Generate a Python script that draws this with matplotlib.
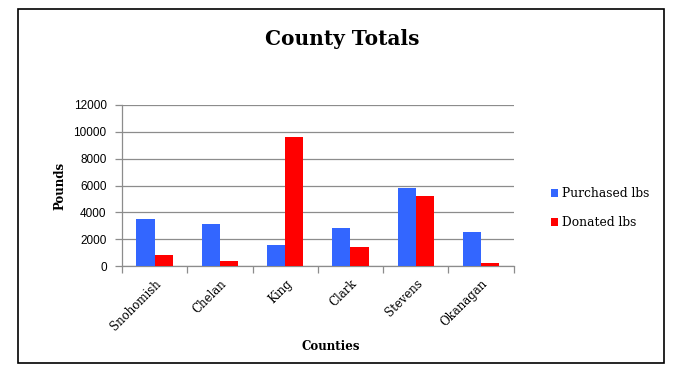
import numpy as np
import matplotlib
matplotlib.use("Agg")
import matplotlib.pyplot as plt
from matplotlib.patches import Rectangle

counties = ["Snohomish", "Chelan", "King", "Clark", "Stevens", "Okanagan"]
purchased = [3500, 3100, 1600, 2800, 5800, 2500]
donated = [800, 400, 9600, 1400, 5200, 200]
y_ticks = [0, 2000, 4000, 6000, 8000, 10000, 12000]

blue = "#3366ff"
red = "#ff0000"
grey = "#8c8c8c"
serif = ["DejaVu Serif"]

fig = plt.figure(figsize=(6.85, 3.71), dpi=100)
ax = fig.add_axes([0.178, 0.283, 0.572, 0.434])

x = np.arange(len(counties))
w = 0.28
ax.bar(x - w / 2, purchased, w, color=blue, label="Purchased lbs", zorder=3)
ax.bar(x + w / 2, donated, w, color=red, label="Donated lbs", zorder=3)

ax.set_xlim(-0.5, len(counties) - 0.5)
ax.set_ylim(0, 12000)
ax.set_yticks(y_ticks)
ax.set_yticklabels([str(v) for v in y_ticks], family="Liberation Sans", fontsize=8.5)
ax.yaxis.grid(True, color=grey, linewidth=0.9, zorder=0)

# category labels at centers, tick marks at the boundaries
ax.set_xticks(x)
ax.set_xticklabels(counties, rotation=45, ha="right", rotation_mode="anchor",
                   family=serif, fontsize=8.5)
ax.set_xticks(np.arange(-0.5, len(counties)), minor=True)
ax.tick_params(axis="x", which="major", length=0, pad=8)
ax.tick_params(axis="x", which="minor", length=5, color=grey, width=0.9)
ax.tick_params(axis="y", length=5, color=grey, width=0.9, pad=6)

for side in ["top", "right"]:
    ax.spines[side].set_visible(False)
for side in ["left", "bottom"]:
    ax.spines[side].set_color(grey)
    ax.spines[side].set_linewidth(0.9)

ax.set_ylabel("Pounds", family=serif, fontweight="bold", fontsize=8.5, labelpad=5)
fig.text(0.483, 0.065, "Counties", family=serif, fontweight="bold", fontsize=8.5,
         ha="center", va="center")
fig.text(0.499, 0.896, "County Totals", family=serif, fontweight="bold", fontsize=14.5,
         ha="center", va="center")

ax.legend(loc="center left", bbox_to_anchor=(1.095, 0.36), frameon=False,
          prop={"family": serif, "size": 8.8}, handlelength=0.6, handleheight=0.6,
          handletextpad=0.3, labelspacing=1.3, borderpad=0, borderaxespad=0)

fig.patches.append(Rectangle((0.026, 0.0216), 0.943, 0.954, transform=fig.transFigure,
                             fill=False, edgecolor="black", linewidth=1.2))

fig.savefig("out.png", dpi=100)
